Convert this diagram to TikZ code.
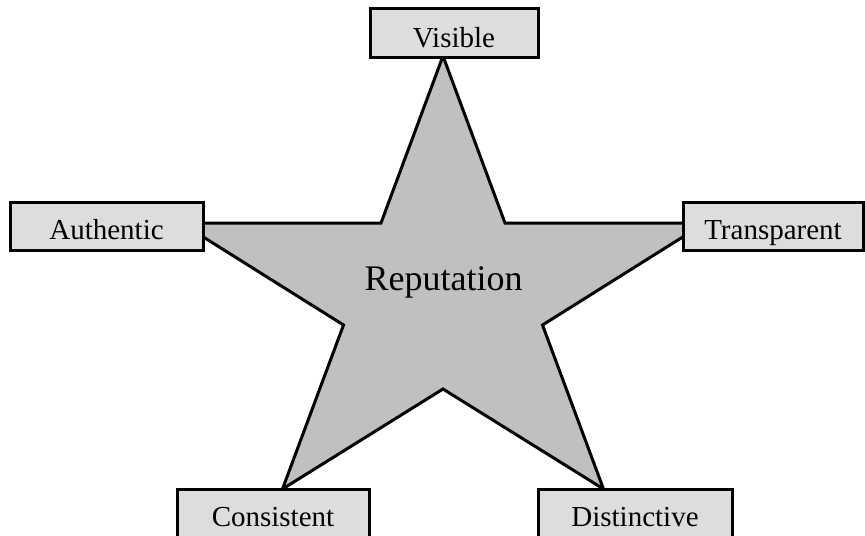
\documentclass[tikz,border=0pt]{standalone}
\usepackage{fontspec}
\setmainfont{Liberation Serif}
\definecolor{boxgray}{HTML}{DDDDDD}
\definecolor{stargray}{HTML}{C0C0C0}
\begin{document}
\begin{tikzpicture}[x=0.5pt,y=-0.5pt,
  valuebox/.style={draw=black, line width=1.5pt, fill=boxgray, inner sep=0pt,
    minimum height=24pt, text height=13.5pt, text depth=0pt,
    font=\fontsize{14.5}{16}\selectfont},
  starshape/.style={draw=black, line width=1.5pt, fill=stargray, line join=miter}]
\useasboundingbox (0,0) rectangle (865,535);
\clip (0,0) rectangle (865,535);

% outer tips and inner corners of the star
\coordinate (tipT)  at (443,56);
\coordinate (inUR)  at (505,223);
\coordinate (tipR)  at (705,223);
\coordinate (inR)   at (542.5,325);
\coordinate (tipBR) at (603.5,489);
\coordinate (inB)   at (443,389);
\coordinate (tipBL) at (282.5,489);
\coordinate (inL)   at (343.5,325);
\coordinate (tipL)  at (181,223);
\coordinate (inUL)  at (381,223);

\draw[starshape] (tipT) -- (inUR) -- (tipR) -- (inR) -- (tipBR) -- (inB)
  -- (tipBL) -- (inL) -- (tipL) -- (inUL) -- cycle;

\node[anchor=base, font=\fontsize{18}{21}\selectfont] (rep) at (443.5,290) {Reputation};

% the five qualities at the tips
\node[valuebox, minimum width=84pt, minimum height=24.5pt] (visible) at (454,33.5) {Visible};
\node[valuebox, minimum width=96.5pt] (authentic) at (106.5,226) {Authentic};
\node[valuebox, minimum width=90pt] (transparent) at (773,226) {Transparent};
\node[valuebox, minimum width=96pt] (consistent) at (273,513) {Consistent};
\node[valuebox, minimum width=97pt] (distinctive) at (635,513) {Distinctive};
\end{tikzpicture}
\end{document}
